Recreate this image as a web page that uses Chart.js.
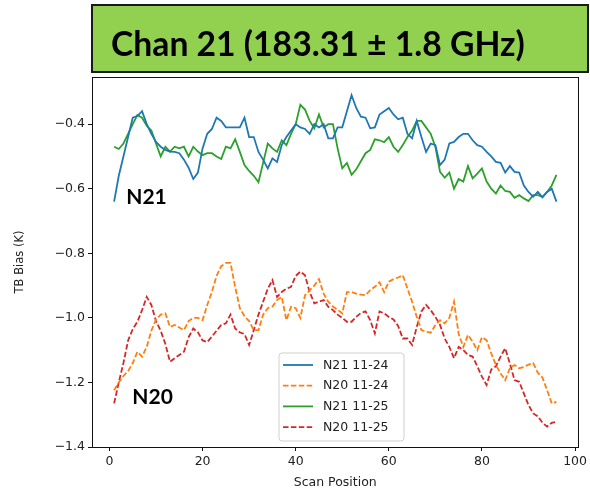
<!DOCTYPE html>
<html><head><meta charset="utf-8">
<script src="https://cdn.jsdelivr.net/npm/chart.js@4.4.1/dist/chart.umd.min.js"></script>
<style>
html,body{margin:0;padding:0;background:#fff;}
#wrap{position:relative;width:590px;height:490px;overflow:hidden;}
canvas{display:block;}
</style></head>
<body><div id="wrap"><canvas id="c" width="590" height="490"></canvas></div>
<script>
const titleText = "Chan 21 (183.31 ± 1.8 GHz)";
const yAxisTitle = "TB Bias (K)";
const xAxisTitle = "Scan Position";
const seriesLabels = ["N21 11-24", "N20 11-24", "N21 11-25", "N20 11-25"];
const xTicks = [0, 20, 40, 60, 80, 100];
const yTicks = [-1.4, -1.2, -1.0, -0.8, -0.6, -0.4];

const scanPos = [1,2,3,4,5,6,7,8,9,10,11,12,13,14,15,16,17,18,19,20,21,22,23,24,25,26,27,28,29,30,31,32,33,34,35,36,37,38,39,40,41,42,43,44,45,46,47,48,49,50,51,52,53,54,55,56,57,58,59,60,61,62,63,64,65,66,67,68,69,70,71,72,73,74,75,76,77,78,79,80,81,82,83,84,85,86,87,88,89,90,91,92,93,94,95,96];

const n21_1124 = [-0.64,-0.56,-0.50,-0.44,-0.38,-0.375,-0.36,-0.40,-0.43,-0.455,-0.47,-0.48,-0.485,-0.486,-0.49,-0.51,-0.535,-0.57,-0.55,-0.475,
-0.43,-0.415,-0.38,-0.39,-0.41,-0.41,-0.41,-0.41,-0.38,-0.44,-0.44,-0.486,-0.51,-0.537,-0.506,-0.517,-0.465,-0.44,-0.42,-0.40,
-0.41,-0.415,-0.43,-0.40,-0.41,-0.40,-0.444,-0.444,-0.41,-0.41,-0.36,-0.31,-0.35,-0.377,-0.38,-0.413,-0.41,-0.37,-0.36,-0.35,
-0.37,-0.385,-0.38,-0.43,-0.444,-0.39,-0.44,-0.486,-0.46,-0.465,-0.527,-0.51,-0.46,-0.455,-0.44,-0.43,-0.43,-0.45,-0.465,-0.47,
-0.486,-0.50,-0.517,-0.52,-0.55,-0.53,-0.548,-0.55,-0.59,-0.61,-0.625,-0.61,-0.627,-0.61,-0.60,-0.64];

const n20_1124 = [-1.224,-1.20,-1.18,-1.165,-1.14,-1.105,-1.12,-1.09,-1.04,-1.005,-0.99,-0.986,-1.028,-1.022,-1.03,-1.038,-1.01,-1.0,-1.0,-1.007,
-0.96,-0.92,-0.87,-0.84,-0.83,-0.83,-0.904,-0.97,-0.995,-1.01,-1.038,-1.038,-0.99,-0.97,-0.965,-0.945,-0.935,-1.007,-0.966,-0.97,
-1.0,-0.93,-0.915,-0.9,-0.88,-0.925,-0.95,-0.965,-0.975,-0.986,-0.92,-0.92,-0.925,-0.928,-0.93,-0.914,-0.904,-0.89,-0.92,-0.888,
-0.88,-0.875,-0.868,-0.909,-0.95,-0.997,-1.038,-1.043,-1.046,-1.022,-1.007,-1.017,-1.0,-0.95,-1.05,-1.09,-1.053,-1.074,-1.10,-1.06,
-1.069,-1.11,-1.146,-1.172,-1.193,-1.156,-1.146,-1.156,-1.152,-1.145,-1.14,-1.17,-1.185,-1.224,-1.265,-1.26];

const n21_1125 = [-0.47,-0.477,-0.46,-0.43,-0.40,-0.372,-0.38,-0.405,-0.42,-0.46,-0.50,-0.47,-0.485,-0.47,-0.475,-0.47,-0.50,-0.47,-0.485,-0.496,
-0.49,-0.49,-0.50,-0.508,-0.47,-0.475,-0.447,-0.486,-0.527,-0.545,-0.56,-0.58,-0.52,-0.46,-0.475,-0.486,-0.45,-0.465,-0.43,-0.40,
-0.34,-0.355,-0.39,-0.413,-0.37,-0.41,-0.40,-0.40,-0.475,-0.537,-0.52,-0.557,-0.54,-0.515,-0.49,-0.48,-0.447,-0.45,-0.456,-0.44,
-0.47,-0.486,-0.465,-0.44,-0.42,-0.39,-0.39,-0.41,-0.43,-0.47,-0.548,-0.566,-0.55,-0.60,-0.57,-0.578,-0.53,-0.568,-0.553,-0.537,
-0.578,-0.60,-0.615,-0.59,-0.607,-0.61,-0.628,-0.62,-0.63,-0.638,-0.62,-0.62,-0.625,-0.61,-0.59,-0.557];

const n20_1125 = [-1.265,-1.20,-1.14,-1.07,-1.035,-1.012,-0.976,-0.935,-0.96,-1.01,-1.04,-1.08,-1.136,-1.125,-1.115,-1.105,-1.06,-1.033,-1.045,-1.07,
-1.075,-1.058,-1.04,-1.022,-1.017,-0.99,-1.033,-1.045,-1.05,-1.084,-1.038,-0.99,-0.95,-0.91,-0.883,-0.935,-0.92,-0.91,-0.904,-0.87,
-0.857,-0.868,-0.92,-0.955,-0.95,-0.945,-0.966,-0.976,-0.99,-1.0,-1.012,-1.012,-0.997,-0.985,-0.98,-1.007,-1.048,-0.98,-0.986,-0.997,
-1.005,-1.025,-1.064,-1.064,-1.084,-1.028,-0.98,-0.96,-0.976,-0.997,-1.022,-1.064,-1.09,-1.125,-1.09,-1.1,-1.115,-1.12,-1.15,-1.182,
-1.208,-1.16,-1.15,-1.12,-1.094,-1.141,-1.193,-1.198,-1.234,-1.27,-1.296,-1.305,-1.325,-1.337,-1.325,-1.322];

const seriesValues = [n21_1124, n20_1124, n21_1125, n20_1125];
const seriesColors = ["#1f77b4", "#ff7f0e", "#2ca02c", "#d62728"];
const seriesDashed = [false, true, false, true];
const annotations = [{text: "N21", x: 3.6, y: -0.626}, {text: "N20", x: 4.9, y: -1.245}];

const FONT = "'DejaVu Sans', sans-serif";
const fmtX = v => String(v).replace('-', '\u2212');
const fmtY = v => v.toFixed(1).replace('-', '\u2212');

const datasets = seriesValues.map((vals, i) => ({
  label: seriesLabels[i],
  data: scanPos.map((p, j) => ({x: p, y: vals[j]})),
  borderColor: seriesColors[i],
  backgroundColor: seriesColors[i],
  borderWidth: 1.8,
  borderDash: seriesDashed[i] ? [5.5, 2.4] : [],
  pointRadius: 0,
  tension: 0,
  fill: false
}));

const decor = {
  id: 'decor',
  beforeDraw(chart) {
    const ctx = chart.ctx;
    ctx.save();
    ctx.fillStyle = '#fff';
    ctx.fillRect(0, 0, chart.width, chart.height);
    ctx.restore();
  },
  afterDraw(chart) {
    const ctx = chart.ctx, a = chart.chartArea;
    const xs = chart.scales.x, ys = chart.scales.y;
    ctx.save();
    // frame
    ctx.strokeStyle = '#111';
    ctx.lineWidth = 1;
    ctx.strokeRect(Math.round(a.left) + 0.5, Math.round(a.top) + 0.5, Math.round(a.right - a.left) - 1, Math.round(a.bottom - a.top));
    // title box
    ctx.fillStyle = '#92d050';
    ctx.fillRect(92, 5, 496, 67);
    ctx.strokeStyle = '#1a1a1a';
    ctx.lineWidth = 2;
    ctx.strokeRect(92, 5, 496, 67);
    ctx.fillStyle = '#000';
    let fs = 34;
    ctx.font = `bold ${fs}px Lato`;
    const w = ctx.measureText(titleText).width;
    fs = fs * 414 / w;
    ctx.font = `bold ${fs}px Lato`;
    ctx.textBaseline = 'alphabetic';
    ctx.textAlign = 'left';
    ctx.fillText(titleText, 111, 56);
    // annotations
    ctx.font = "bold 21px Lato";
    ctx.textBaseline = 'middle';
    annotations.forEach(an => ctx.fillText(an.text, xs.getPixelForValue(an.x), ys.getPixelForValue(an.y)));
    // legend
    const lx = 279, ly = 353, lw = 125, lh = 88, r = 3;
    ctx.beginPath();
    ctx.moveTo(lx + r, ly); ctx.lineTo(lx + lw - r, ly); ctx.quadraticCurveTo(lx + lw, ly, lx + lw, ly + r);
    ctx.lineTo(lx + lw, ly + lh - r); ctx.quadraticCurveTo(lx + lw, ly + lh, lx + lw - r, ly + lh);
    ctx.lineTo(lx + r, ly + lh); ctx.quadraticCurveTo(lx, ly + lh, lx, ly + lh - r);
    ctx.lineTo(lx, ly + r); ctx.quadraticCurveTo(lx, ly, lx + r, ly);
    ctx.closePath();
    ctx.fillStyle = 'rgba(255,255,255,0.8)';
    ctx.fill();
    ctx.strokeStyle = '#d0d0d0';
    ctx.lineWidth = 1;
    ctx.stroke();
    ctx.font = `12.5px ${FONT}`;
    ctx.textBaseline = 'middle';
    chart.data.datasets.forEach((ds, i) => {
      const yy = 365 + i * 20.7;
      ctx.beginPath();
      ctx.setLineDash(ds.borderDash);
      ctx.strokeStyle = ds.borderColor;
      ctx.lineWidth = ds.borderWidth;
      ctx.moveTo(283, yy); ctx.lineTo(313, yy);
      ctx.stroke();
      ctx.setLineDash([]);
      ctx.fillStyle = '#222';
      ctx.fillText(ds.label, 323, yy + 0.5);
    });
    ctx.restore();
  }
};

new Chart(document.getElementById('c'), {
  type: 'line',
  data: { datasets },
  options: {
    responsive: false,
    animation: false,
    devicePixelRatio: 1,
    layout: { padding: { top: 77, right: 2, left: 0, bottom: 0 } },
    plugins: { legend: { display: false }, tooltip: { enabled: false }, title: { display: false } },
    scales: {
      x: {
        type: 'linear', min: -3.75, max: 100.75,
        afterBuildTicks: s => { s.ticks = xTicks.map(v => ({ value: v })); },
        afterFit: s => { s.height = 43; },
        grid: { display: true, drawOnChartArea: false, drawTicks: true, tickLength: 4, color: '#111' },
        border: { display: false },
        ticks: { color: '#222', font: { family: FONT, size: 12.5 }, padding: 3, maxRotation: 0, autoSkip: false, callback: v => fmtX(v) },
        title: { display: true, text: xAxisTitle, color: '#222', font: { family: FONT, size: 12.5 }, padding: { top: 0, bottom: 0 } }
      },
      y: {
        type: 'linear', min: -1.4, max: -0.254,
        afterBuildTicks: s => { s.ticks = yTicks.map(v => ({ value: v })); },
        afterFit: s => { s.width = 92; },
        grid: { display: true, drawOnChartArea: false, drawTicks: true, tickLength: 4, color: '#111' },
        border: { display: false },
        ticks: { color: '#222', font: { family: FONT, size: 12.5 }, padding: 3, autoSkip: false, callback: v => fmtY(v) },
        title: { display: true, text: yAxisTitle, color: '#222', font: { family: FONT, size: 11.5 }, padding: { top: 13, bottom: 0 } }
      }
    }
  },
  plugins: [decor]
});
</script></body></html>
